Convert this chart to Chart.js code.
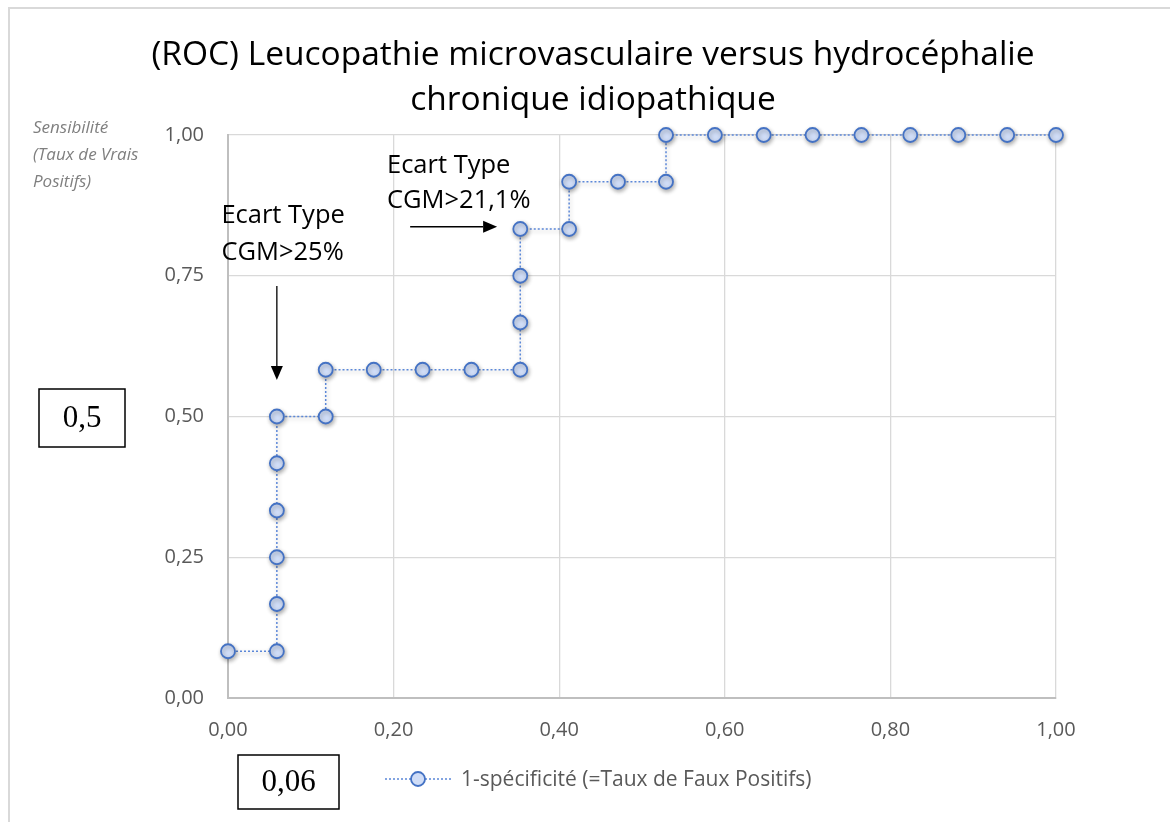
<!DOCTYPE html>
<html>
<head>
<meta charset="utf-8">
<script src="https://cdn.jsdelivr.net/npm/chart.js@4.4.1/dist/chart.umd.min.js"></script>
<style>
  html, body { margin: 0; padding: 0; background: #fff; }
  canvas { display: block; }
</style>
</head>
<body>
<canvas id="rocChart" width="1170" height="822"></canvas>
<script>
// ROC points
const fauxPositifs = [
  0.000, 0.059, 0.059, 0.059, 0.059, 0.059, 0.059, 0.118, 0.118, 0.176,
  0.235, 0.294, 0.353, 0.353, 0.353, 0.353, 0.412, 0.412, 0.471, 0.529,
  0.529, 0.588, 0.647, 0.706, 0.765, 0.824, 0.882, 0.941, 1.000
];
const vraisPositifs = [
  0.083, 0.083, 0.167, 0.250, 0.333, 0.417, 0.500, 0.500, 0.583, 0.583,
  0.583, 0.583, 0.583, 0.667, 0.750, 0.833, 0.833, 0.917, 0.917, 0.917,
  1.000, 1.000, 1.000, 1.000, 1.000, 1.000, 1.000, 1.000, 1.000
];
const xTicks = [0, 0.2, 0.4, 0.6, 0.8, 1];
const yTicks = [0, 0.25, 0.5, 0.75, 1];

const titleLines = ["(ROC) Leucopathie microvasculaire versus hydrocéphalie", "chronique idiopathique"];
const yTitleLines = ["Sensibilité", "(Taux de Vrais", "Positifs)"];
const seriesLabel = "1-spécificité (=Taux de Faux Positifs)";

const lineColor = "#5b87d8";
const markerFill = "#d0ddf7";
const markerBorder = "#4472c4";
const tickColor = "#595959";

function fmt(v) {
  return v.toFixed(2).replace(".", ",");
}

// Draw an arrow between two points
function arrow(ctx, x1, y1, x2, y2) {
  const ang = Math.atan2(y2 - y1, x2 - x1);
  const head = 14, half = 6;
  ctx.save();
  ctx.strokeStyle = "#000";
  ctx.fillStyle = "#000";
  ctx.lineWidth = 1.3;
  ctx.beginPath();
  ctx.moveTo(x1, y1);
  ctx.lineTo(x2 - head * Math.cos(ang), y2 - head * Math.sin(ang));
  ctx.stroke();
  ctx.beginPath();
  ctx.moveTo(x2, y2);
  ctx.lineTo(x2 - head * Math.cos(ang) + half * Math.sin(ang), y2 - head * Math.sin(ang) - half * Math.cos(ang));
  ctx.lineTo(x2 - head * Math.cos(ang) - half * Math.sin(ang), y2 - head * Math.sin(ang) + half * Math.cos(ang));
  ctx.closePath();
  ctx.fill();
  ctx.restore();
}

function boxedText(ctx, text, x, y, w, h) {
  ctx.save();
  ctx.strokeStyle = "#000";
  ctx.lineWidth = 1.5;
  ctx.strokeRect(x, y, w, h);
  ctx.fillStyle = "#000";
  ctx.font = "31px 'Liberation Serif'";
  ctx.textAlign = "center";
  ctx.textBaseline = "middle";
  ctx.fillText(text, x + w / 2, y + h / 2 + 1);
  ctx.restore();
}

const frame = {
  id: "frame",
  beforeDraw(chart) {
    const ctx = chart.ctx;
    ctx.save();
    ctx.fillStyle = "#fff";
    ctx.fillRect(0, 0, chart.width, chart.height);
    ctx.strokeStyle = "#d9d9d9";
    ctx.lineWidth = 2;
    ctx.beginPath();
    ctx.moveTo(9, chart.height);
    ctx.lineTo(9, 8);
    ctx.lineTo(chart.width, 8);
    ctx.stroke();
    ctx.restore();
  },
  beforeDatasetDraw(chart) {
    const ctx = chart.ctx;
    ctx.save();
    ctx.shadowColor = "rgba(0,0,0,0.3)";
    ctx.shadowBlur = 4;
    ctx.shadowOffsetX = 1;
    ctx.shadowOffsetY = 2;
  },
  afterDatasetDraw(chart) {
    chart.ctx.restore();
  },
  afterDraw(chart) {
    const ctx = chart.ctx;
    const sx = chart.scales.x, sy = chart.scales.y;
    ctx.save();

    // title
    ctx.fillStyle = "#000";
    ctx.font = "33.5px 'Open Sans'";
    ctx.textAlign = "center";
    ctx.textBaseline = "middle";
    ctx.fillText(titleLines[0], 593, 55);
    ctx.fillText(titleLines[1], 593, 100);

    // y axis title
    ctx.fillStyle = "#7f7f7f";
    ctx.font = "italic 17px 'Open Sans'";
    ctx.textAlign = "left";
    yTitleLines.forEach((t, i) => ctx.fillText(t, 33, 128 + i * 27));

    // annotations
    ctx.fillStyle = "#000";
    ctx.font = "25.5px 'Open Sans'";
    ctx.fillText("Ecart Type", sx.getPixelForValue(-0.008), sy.getPixelForValue(0.856));
    ctx.fillText("CGM>25%", sx.getPixelForValue(-0.008), sy.getPixelForValue(0.79));
    ctx.fillText("Ecart Type", sx.getPixelForValue(0.192), sy.getPixelForValue(0.945));
    ctx.fillText("CGM>21,1%", sx.getPixelForValue(0.192), sy.getPixelForValue(0.883));
    arrow(ctx, sx.getPixelForValue(0.059), sy.getPixelForValue(0.732), sx.getPixelForValue(0.059), sy.getPixelForValue(0.565));
    arrow(ctx, sx.getPixelForValue(0.22), sy.getPixelForValue(0.837), sx.getPixelForValue(0.325), sy.getPixelForValue(0.837));

    // boxes
    boxedText(ctx, "0,5", 39, 389, 86, 58);
    boxedText(ctx, "0,06", 238, 755, 101, 54);

    // legend
    const ly = 779;
    ctx.strokeStyle = lineColor;
    ctx.lineWidth = 1.5;
    ctx.setLineDash([2, 2]);
    ctx.beginPath();
    ctx.moveTo(385, ly);
    ctx.lineTo(451, ly);
    ctx.stroke();
    ctx.setLineDash([]);
    ctx.beginPath();
    ctx.arc(418, ly, 7, 0, Math.PI * 2);
    ctx.fillStyle = markerFill;
    ctx.fill();
    ctx.strokeStyle = markerBorder;
    ctx.lineWidth = 1.8;
    ctx.stroke();
    ctx.fillStyle = tickColor;
    ctx.font = "21px 'Open Sans'";
    ctx.textAlign = "left";
    ctx.fillText(seriesLabel, 461, ly + 1);
    ctx.restore();
  }
};

const points = fauxPositifs.map((x, i) => ({ x: x, y: vraisPositifs[i] }));

new Chart(document.getElementById("rocChart"), {
  type: "scatter",
  data: {
    datasets: [
      {
        label: seriesLabel,
        data: points,
        showLine: true,
        clip: false,
        borderColor: lineColor,
        borderWidth: 1.5,
        borderDash: [2, 2],
        pointRadius: 7,
        pointHoverRadius: 7,
        pointBackgroundColor: markerFill,
        pointBorderColor: markerBorder,
        pointBorderWidth: 1.8,
      },
    ],
  },
  options: {
    responsive: false,
    animation: false,
    layout: { padding: { left: 0, right: 114, top: 135, bottom: 0 } },
    plugins: {
      legend: { display: false },
      tooltip: { enabled: false },
    },
    scales: {
      x: {
        type: "linear",
        min: 0,
        max: 1,
        afterFit: (s) => { s.height = 124; },
        afterBuildTicks: (s) => { s.ticks = xTicks.map((v) => ({ value: v })); },
        ticks: {
          padding: 20,
          color: tickColor,
          font: { family: "'Open Sans'", size: 20 },
          callback: (v) => fmt(v),
        },
        grid: { color: "#d9d9d9", lineWidth: 1.3, drawTicks: false },
        border: { color: "#bfbfbf", width: 2 },
      },
      y: {
        type: "linear",
        min: 0,
        max: 1,
        afterFit: (s) => { s.width = 228; },
        afterBuildTicks: (s) => { s.ticks = yTicks.map((v) => ({ value: v })); },
        ticks: {
          padding: 24,
          color: tickColor,
          font: { family: "'Open Sans'", size: 20 },
          callback: (v) => fmt(v),
        },
        grid: { color: "#d9d9d9", lineWidth: 1.3, drawTicks: false },
        border: { color: "#bfbfbf", width: 2 },
      },
    },
  },
  plugins: [frame],
});
</script>
</body>
</html>
